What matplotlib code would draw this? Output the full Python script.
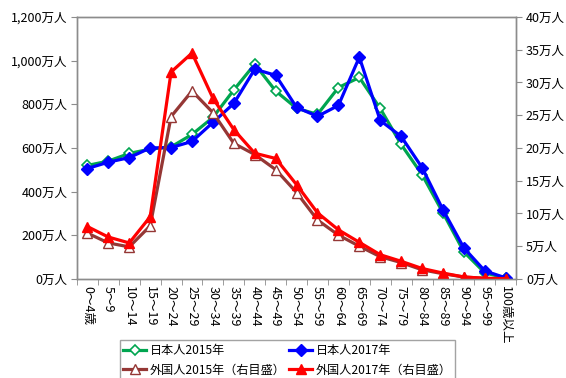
import matplotlib.pyplot as plt
import numpy as np

plt.rcParams['font.family'] = ['Noto Sans CJK JP', 'DejaVu Sans']

# 年齢階級
age_groups = ["0～4歳", "5～9", "10～14", "15～19", "20～24", "25～29", "30～34",
              "35～39", "40～44", "45～49", "50～54", "55～59", "60～64", "65～69",
              "70～74", "75～79", "80～84", "85～89", "90～94", "95～99", "100歳以上"]

# 日本人（万人、左目盛）
jp_2015 = [520, 540, 575, 595, 605, 662, 740, 866, 984, 861, 782, 754, 877, 923,
           781, 616, 478, 303, 124, 28, 4]
jp_2017 = [506, 535, 556, 600, 602, 630, 717, 804, 961, 933, 786, 745, 795, 1016,
           726, 653, 510, 317, 142, 37, 5]

# 外国人（万人、右目盛）
fr_2015 = [7.0, 5.5, 4.9, 8.1, 24.8, 28.7, 25.4, 20.7, 19.0, 16.7, 13.2, 9.0, 6.7,
           5.0, 3.4, 2.5, 1.4, 0.8, 0.3, 0.1, 0.0]
fr_2017 = [8.0, 6.4, 5.5, 9.5, 31.6, 34.5, 27.6, 22.8, 19.2, 18.4, 14.4, 10.1, 7.5,
           5.6, 3.7, 2.7, 1.6, 0.9, 0.3, 0.1, 0.05]

x = np.arange(len(age_groups))
grey = "#8c8c8c"
fs = 9

fig = plt.figure(figsize=(5.66, 3.78), dpi=100)
ax = fig.add_axes([0.136, 0.262, 0.776, 0.693])
ax2 = ax.twinx()

l1, = ax.plot(x, jp_2015, color="#00a550", lw=2.3, marker="D", ms=5.5,
              mfc="white", mec="#00a550", mew=1.2, label="日本人2015年")
l2, = ax.plot(x, jp_2017, color="#0000ff", lw=2.3, marker="D", ms=6,
              mfc="#0000ff", mec="#0000ff", label="日本人2017年")
l3, = ax2.plot(x, fr_2015, color="#953735", lw=2.3, marker="^", ms=7,
               mfc="white", mec="#953735", mew=1.0, label="外国人2015年（右目盛）")
l4, = ax2.plot(x, fr_2017, color="#ff0000", lw=2.3, marker="^", ms=7.5,
               mfc="#ff0000", mec="#ff0000", label="外国人2017年（右目盛）")

ax.set_xlim(-0.5, len(age_groups) - 0.5)
ax.set_ylim(0, 1200)
ax2.set_ylim(0, 40)

ax.set_yticks(np.arange(0, 1201, 200))
ax.set_yticklabels([f"{v:,}万人" for v in range(0, 1201, 200)], fontsize=fs)
ax2.set_yticks(np.arange(0, 41, 5))
ax2.set_yticklabels([f"{v}万人" for v in range(0, 41, 5)], fontsize=fs)

ax.set_xticks(x)
ax.set_xticklabels(age_groups, rotation=-90, fontsize=fs, va="top", ha="center")
ax.set_xticks(np.arange(-0.5, len(age_groups)), minor=True)
ax.tick_params(axis="x", which="major", length=0, pad=5)
ax.tick_params(axis="x", which="minor", length=4, color=grey)
ax.tick_params(axis="y", length=4, color=grey, pad=3)
ax2.tick_params(axis="y", length=4, color=grey, pad=3)

for a in (ax, ax2):
    for s in a.spines.values():
        s.set_color(grey)
        s.set_linewidth(1.0)

# 凡例は行ごとに 日本人 / 外国人 を並べる
leg = fig.legend(handles=[l1, l3, l2, l4], ncol=2, loc="upper center",
                 bbox_to_anchor=(0.508, 0.116), fontsize=8.7, frameon=True,
                 fancybox=False, edgecolor=grey, handlelength=1.9,
                 handletextpad=0.3, columnspacing=0.3, borderpad=0.3,
                 labelspacing=0.55)
leg.get_frame().set_linewidth(1.0)

fig.savefig("out.png", dpi=100)
